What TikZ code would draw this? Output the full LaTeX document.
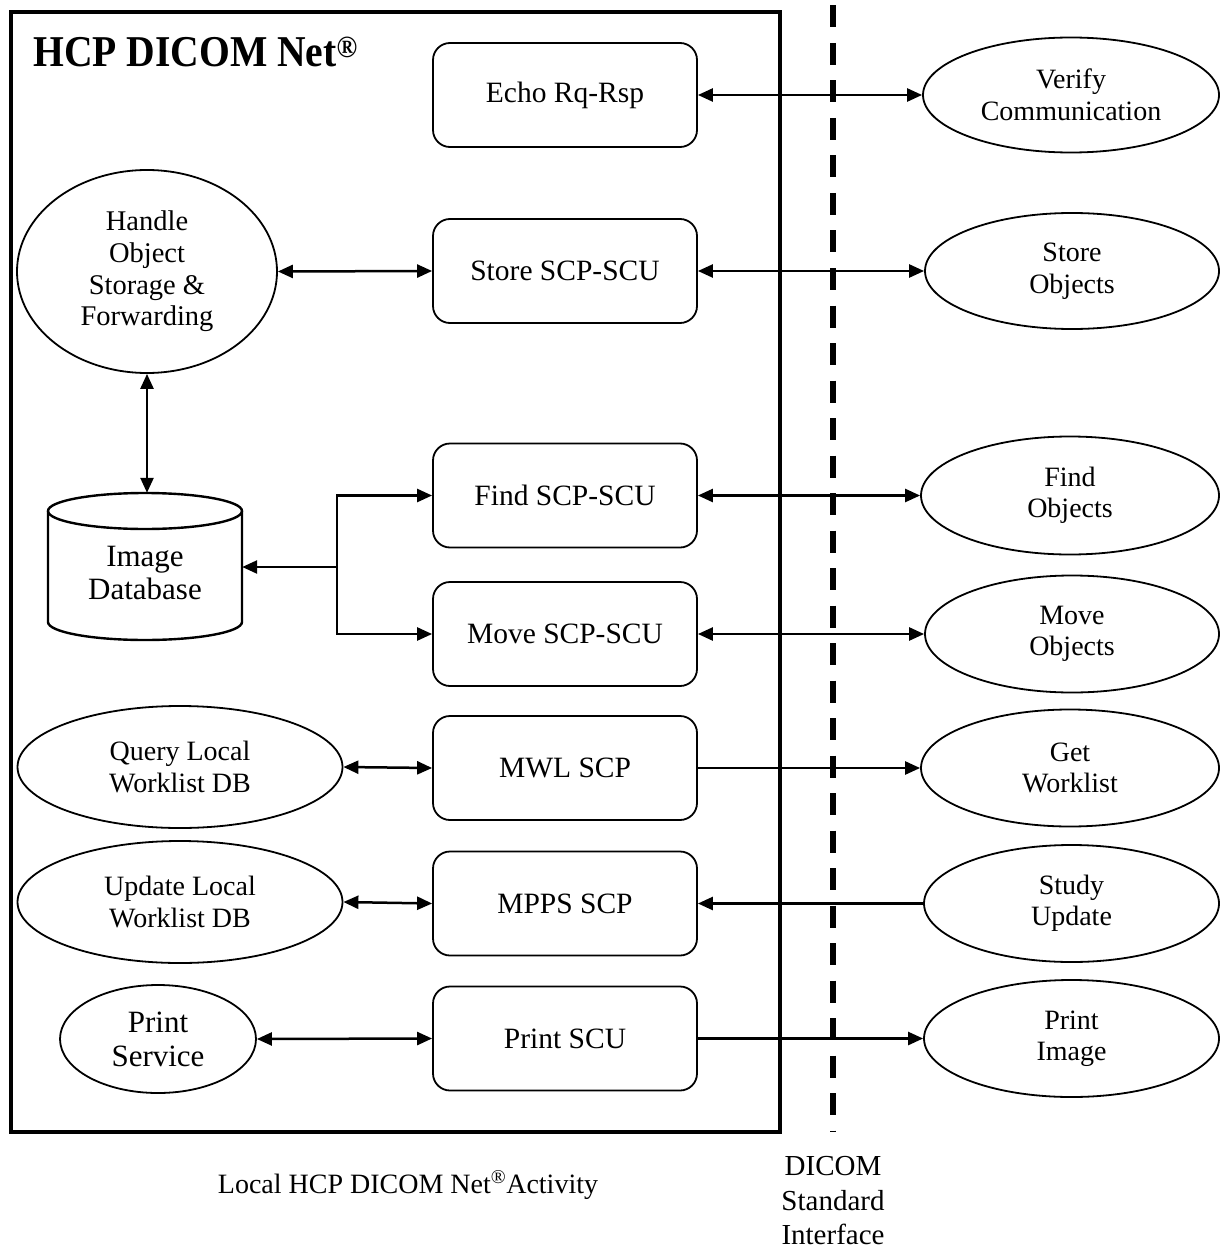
\documentclass[tikz,border=0pt]{standalone}
\usepackage{fontspec}
\setmainfont{Liberation Serif}
\newfontfamily\titlefont{Liberation Serif}[FakeStretch=0.9]
\usetikzlibrary{shapes.geometric,arrows.meta}
\begin{document}
\begin{tikzpicture}[x=1pt,y=-1pt,
  >={Triangle[length=15pt,width=13pt]},
  box/.style={draw, rounded corners=17pt, minimum width=264pt, minimum height=104pt,
    line width=1.8pt, inner sep=0pt, font=\fontsize{29.5}{33}\selectfont},
  ell/.style={draw, ellipse, line width=1.8pt, inner sep=0pt, align=center,
    font=\fontsize{28}{31.5}\selectfont},
  conn/.style={line width=2.5pt},
  frame/.style={line width=3.5pt},
  dbline/.style={line width=2.4pt},
  iface/.style={line width=6pt, dash pattern=on 22pt off 15.5pt}
]
\useasboundingbox (0,0) rectangle (1219,1249);

% outer frame
\draw[frame] (11,12) rectangle (780,1132);
\node[anchor=base west, inner sep=0pt, font=\titlefont\bfseries\fontsize{44}{48}\selectfont] (title) at (33,67) {HCP DICOM Net\textsuperscript{®}};

% interface line
\coordinate (dtop) at (833,5.5);
\coordinate (dbot) at (833,1132);
\draw[iface] (dtop) -- (dbot);

% service boxes
\node[box] (echo)  at (565,95)   {Echo Rq-Rsp};
\node[box] (store) at (565,271)  {Store SCP-SCU};
\node[box] (find)  at (565,495.5){Find SCP-SCU};
\node[box] (move)  at (565,634)  {Move SCP-SCU};
\node[box] (mwl)   at (565,768)  {MWL SCP};
\node[box] (mpps)  at (565,903.5){MPPS SCP};
\node[box] (pscu)  at (565,1038.5){Print SCU};

% remote ellipses
\node[ell, minimum width=296pt, minimum height=115pt] (verify) at (1071,95)   {Verify\\Communication};
\node[ell, minimum width=294pt, minimum height=116pt] (sobj)   at (1072,271)  {Store\\Objects};
\node[ell, minimum width=298pt, minimum height=118pt] (fobj)   at (1070,495.5){Find\\Objects};
\node[ell, minimum width=294pt, minimum height=117pt] (mobj)   at (1072,634)  {Move\\Objects};
\node[ell, minimum width=298pt, minimum height=117pt] (getwl)  at (1070,768)  {Get\\Worklist};
\node[ell, minimum width=295pt, minimum height=117pt] (study)  at (1071.5,903.5){Study\\Update};
\node[ell, minimum width=295pt, minimum height=117pt] (pimg)   at (1071.5,1038.5){Print\\Image};

% local ellipses
\node[ell, minimum width=260pt, minimum height=203pt, font=\fontsize{28.5}{31.7}\selectfont] (handle) at (147,271.5) {Handle\\Object\\Storage \&\\Forwarding};
\node[ell, minimum width=325pt, minimum height=122pt] (query)  at (180,767) {Query Local\\Worklist DB};
\node[ell, minimum width=325pt, minimum height=122pt] (update) at (180,902) {Update Local\\Worklist DB};
\node[ell, minimum width=196pt, minimum height=108pt, font=\fontsize{31}{34}\selectfont] (psvc) at (158,1039) {Print\\Service};

% database cylinder
\node[minimum width=194pt, minimum height=147pt, inner sep=0pt] (db) at (145,566.5) {};
\draw[dbline] (145,511) ellipse [x radius=97pt, y radius=18pt];
\draw[dbline] (48,511) -- (48,622) arc[start angle=180, end angle=360, x radius=97pt, y radius=18pt] -- (242,511);
\node[align=center, inner sep=0pt, font=\fontsize{31}{33}\selectfont] (dbtext) at (145,573) {Image\\Database};

% connectors, right side
\draw[conn,<->] (echo.east) -- (verify.west);
\draw[conn,<->] (store.east) -- (sobj.west);
\draw[conn,<->] (find.east) -- (fobj.west);
\draw[conn,<->] (move.east) -- (mobj.west);
\draw[conn,->] (mwl.east) -- (getwl.west);
\draw[conn,->] (study.west) -- (mpps.east);
\draw[conn,->] (pscu.east) -- (pimg.west);

% connectors, left side
\draw[conn,<->] (handle.east) -- (store.west);
\draw[conn,<->] (handle.south) -- (handle.south |- db.north);
\coordinate (j) at (337,567);
\draw[conn,->] (j) -- (j -| db.east);
\draw[conn,->] (j) |- (find.west);
\draw[conn,->] (j) |- (move.west);
\draw[conn,<->] (query.east) -- (mwl.west);
\draw[conn,<->] (update.east) -- (mpps.west);
\draw[conn,<->] (psvc.east) -- (pscu.west);

% captions
\node[font=\fontsize{28}{32}\selectfont, inner sep=0pt] (local) at (408,1185) {Local HCP DICOM Net\textsuperscript{®}Activity};
\node[align=center, inner sep=0pt, font=\fontsize{29}{34.5}\selectfont] (dicom) at (833,1201) {DICOM\\Standard\\Interface};
\end{tikzpicture}
\end{document}
